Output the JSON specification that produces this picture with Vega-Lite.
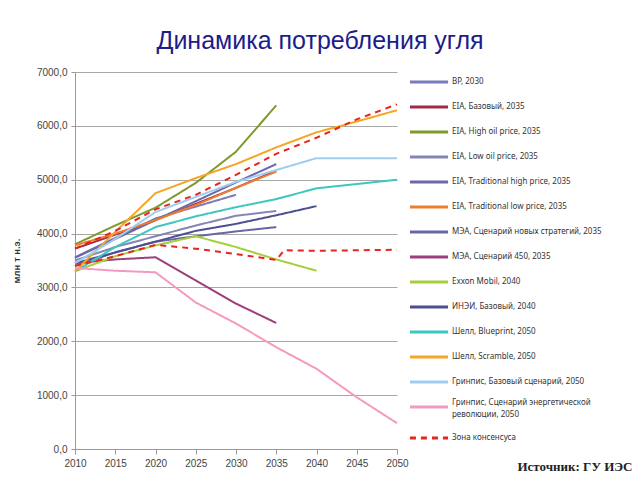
{
  "$schema": "https://vega.github.io/schema/vega-lite/v6.json",
  "width": 322,
  "height": 377,
  "autosize": {"type": "none"},
  "padding": {"left": 75, "top": 72, "right": 243, "bottom": 31},
  "background": "white",
  "title": {"text": "Динамика потребления угля", "font": "Liberation Sans", "fontSize": 25, "fontWeight": "normal", "color": "#1c1c8a", "anchor": "middle", "dx": 84, "offset": 9},
  "datasets": {
    "d": [
      {"s": "BP, 2030", "p": "a", "year": 2010, "v": 3560}, {"s": "BP, 2030", "p": "a", "year": 2015, "v": 3920}, {"s": "BP, 2030", "p": "a", "year": 2020, "v": 4280}, {"s": "BP, 2030", "p": "a", "year": 2025, "v": 4500}, {"s": "BP, 2030", "p": "a", "year": 2030, "v": 4720},
      {"s": "EIA, Базовый, 2035", "p": "a", "year": 2010, "v": 3720}, {"s": "EIA, Базовый, 2035", "p": "a", "year": 2015, "v": 3980}, {"s": "EIA, Базовый, 2035", "p": "a", "year": 2020, "v": 4250}, {"s": "EIA, Базовый, 2035", "p": "a", "year": 2025, "v": 4550}, {"s": "EIA, Базовый, 2035", "p": "a", "year": 2030, "v": 4850}, {"s": "EIA, Базовый, 2035", "p": "a", "year": 2035, "v": 5170},
      {"s": "EIA, High oil price, 2035", "p": "a", "year": 2010, "v": 3800}, {"s": "EIA, High oil price, 2035", "p": "a", "year": 2015, "v": 4150}, {"s": "EIA, High oil price, 2035", "p": "a", "year": 2020, "v": 4480}, {"s": "EIA, High oil price, 2035", "p": "a", "year": 2025, "v": 4940}, {"s": "EIA, High oil price, 2035", "p": "a", "year": 2030, "v": 5520}, {"s": "EIA, High oil price, 2035", "p": "a", "year": 2035, "v": 6380},
      {"s": "EIA, Low oil price, 2035", "p": "a", "year": 2010, "v": 3500}, {"s": "EIA, Low oil price, 2035", "p": "a", "year": 2015, "v": 3750}, {"s": "EIA, Low oil price, 2035", "p": "a", "year": 2020, "v": 3950}, {"s": "EIA, Low oil price, 2035", "p": "a", "year": 2025, "v": 4150}, {"s": "EIA, Low oil price, 2035", "p": "a", "year": 2030, "v": 4330}, {"s": "EIA, Low oil price, 2035", "p": "a", "year": 2035, "v": 4420},
      {"s": "EIA, Traditional high price, 2035", "p": "a", "year": 2010, "v": 3550}, {"s": "EIA, Traditional high price, 2035", "p": "a", "year": 2015, "v": 3900}, {"s": "EIA, Traditional high price, 2035", "p": "a", "year": 2020, "v": 4250}, {"s": "EIA, Traditional high price, 2035", "p": "a", "year": 2025, "v": 4600}, {"s": "EIA, Traditional high price, 2035", "p": "a", "year": 2030, "v": 4950}, {"s": "EIA, Traditional high price, 2035", "p": "a", "year": 2035, "v": 5290},
      {"s": "EIA, Traditional low price, 2035", "p": "a", "year": 2010, "v": 3780}, {"s": "EIA, Traditional low price, 2035", "p": "a", "year": 2015, "v": 4000}, {"s": "EIA, Traditional low price, 2035", "p": "a", "year": 2020, "v": 4250}, {"s": "EIA, Traditional low price, 2035", "p": "a", "year": 2025, "v": 4530}, {"s": "EIA, Traditional low price, 2035", "p": "a", "year": 2030, "v": 4850}, {"s": "EIA, Traditional low price, 2035", "p": "a", "year": 2035, "v": 5150},
      {"s": "МЭА, Сценарий новых стратегий, 2035", "p": "a", "year": 2010, "v": 3400}, {"s": "МЭА, Сценарий новых стратегий, 2035", "p": "a", "year": 2015, "v": 3650}, {"s": "МЭА, Сценарий новых стратегий, 2035", "p": "a", "year": 2020, "v": 3850}, {"s": "МЭА, Сценарий новых стратегий, 2035", "p": "a", "year": 2025, "v": 3950}, {"s": "МЭА, Сценарий новых стратегий, 2035", "p": "a", "year": 2030, "v": 4040}, {"s": "МЭА, Сценарий новых стратегий, 2035", "p": "a", "year": 2035, "v": 4120},
      {"s": "МЭА, Сценарий 450, 2035", "p": "a", "year": 2010, "v": 3450}, {"s": "МЭА, Сценарий 450, 2035", "p": "a", "year": 2015, "v": 3520}, {"s": "МЭА, Сценарий 450, 2035", "p": "a", "year": 2020, "v": 3560}, {"s": "МЭА, Сценарий 450, 2035", "p": "a", "year": 2025, "v": 3130}, {"s": "МЭА, Сценарий 450, 2035", "p": "a", "year": 2030, "v": 2700}, {"s": "МЭА, Сценарий 450, 2035", "p": "a", "year": 2035, "v": 2340},
      {"s": "Exxon Mobil, 2040", "p": "a", "year": 2010, "v": 3300}, {"s": "Exxon Mobil, 2040", "p": "a", "year": 2015, "v": 3580}, {"s": "Exxon Mobil, 2040", "p": "a", "year": 2020, "v": 3780}, {"s": "Exxon Mobil, 2040", "p": "a", "year": 2025, "v": 3950}, {"s": "Exxon Mobil, 2040", "p": "a", "year": 2030, "v": 3750}, {"s": "Exxon Mobil, 2040", "p": "a", "year": 2035, "v": 3520}, {"s": "Exxon Mobil, 2040", "p": "a", "year": 2040, "v": 3310},
      {"s": "ИНЭИ, Базовый, 2040", "p": "a", "year": 2010, "v": 3450}, {"s": "ИНЭИ, Базовый, 2040", "p": "a", "year": 2015, "v": 3650}, {"s": "ИНЭИ, Базовый, 2040", "p": "a", "year": 2020, "v": 3850}, {"s": "ИНЭИ, Базовый, 2040", "p": "a", "year": 2025, "v": 4050}, {"s": "ИНЭИ, Базовый, 2040", "p": "a", "year": 2030, "v": 4180}, {"s": "ИНЭИ, Базовый, 2040", "p": "a", "year": 2035, "v": 4340}, {"s": "ИНЭИ, Базовый, 2040", "p": "a", "year": 2040, "v": 4510},
      {"s": "Шелл, Blueprint, 2050", "p": "a", "year": 2010, "v": 3300}, {"s": "Шелл, Blueprint, 2050", "p": "a", "year": 2015, "v": 3750}, {"s": "Шелл, Blueprint, 2050", "p": "a", "year": 2020, "v": 4120}, {"s": "Шелл, Blueprint, 2050", "p": "a", "year": 2025, "v": 4320}, {"s": "Шелл, Blueprint, 2050", "p": "a", "year": 2030, "v": 4490}, {"s": "Шелл, Blueprint, 2050", "p": "a", "year": 2035, "v": 4640}, {"s": "Шелл, Blueprint, 2050", "p": "a", "year": 2040, "v": 4840}, {"s": "Шелл, Blueprint, 2050", "p": "a", "year": 2045, "v": 4920}, {"s": "Шелл, Blueprint, 2050", "p": "a", "year": 2050, "v": 5000},
      {"s": "Шелл, Scramble, 2050", "p": "a", "year": 2010, "v": 3300}, {"s": "Шелл, Scramble, 2050", "p": "a", "year": 2015, "v": 4030}, {"s": "Шелл, Scramble, 2050", "p": "a", "year": 2020, "v": 4750}, {"s": "Шелл, Scramble, 2050", "p": "a", "year": 2025, "v": 5030}, {"s": "Шелл, Scramble, 2050", "p": "a", "year": 2030, "v": 5290}, {"s": "Шелл, Scramble, 2050", "p": "a", "year": 2035, "v": 5600}, {"s": "Шелл, Scramble, 2050", "p": "a", "year": 2040, "v": 5880}, {"s": "Шелл, Scramble, 2050", "p": "a", "year": 2045, "v": 6080}, {"s": "Шелл, Scramble, 2050", "p": "a", "year": 2050, "v": 6290},
      {"s": "Гринпис, Базовый сценарий, 2050", "p": "a", "year": 2010, "v": 3450}, {"s": "Гринпис, Базовый сценарий, 2050", "p": "a", "year": 2015, "v": 3900}, {"s": "Гринпис, Базовый сценарий, 2050", "p": "a", "year": 2020, "v": 4400}, {"s": "Гринпис, Базовый сценарий, 2050", "p": "a", "year": 2025, "v": 4680}, {"s": "Гринпис, Базовый сценарий, 2050", "p": "a", "year": 2030, "v": 4960}, {"s": "Гринпис, Базовый сценарий, 2050", "p": "a", "year": 2035, "v": 5180}, {"s": "Гринпис, Базовый сценарий, 2050", "p": "a", "year": 2040, "v": 5400}, {"s": "Гринпис, Базовый сценарий, 2050", "p": "a", "year": 2045, "v": 5400}, {"s": "Гринпис, Базовый сценарий, 2050", "p": "a", "year": 2050, "v": 5400},
      {"s": "Гринпис, Сценарий энергетической революции, 2050", "p": "a", "year": 2010, "v": 3360}, {"s": "Гринпис, Сценарий энергетической революции, 2050", "p": "a", "year": 2015, "v": 3310}, {"s": "Гринпис, Сценарий энергетической революции, 2050", "p": "a", "year": 2020, "v": 3280}, {"s": "Гринпис, Сценарий энергетической революции, 2050", "p": "a", "year": 2025, "v": 2720}, {"s": "Гринпис, Сценарий энергетической революции, 2050", "p": "a", "year": 2030, "v": 2330}, {"s": "Гринпис, Сценарий энергетической революции, 2050", "p": "a", "year": 2035, "v": 1890}, {"s": "Гринпис, Сценарий энергетической революции, 2050", "p": "a", "year": 2040, "v": 1490}, {"s": "Гринпис, Сценарий энергетической революции, 2050", "p": "a", "year": 2045, "v": 960}, {"s": "Гринпис, Сценарий энергетической революции, 2050", "p": "a", "year": 2050, "v": 480},
      {"s": "Зона консенсуса", "p": "upper", "year": 2010, "v": 3720}, {"s": "Зона консенсуса", "p": "upper", "year": 2015, "v": 4050}, {"s": "Зона консенсуса", "p": "upper", "year": 2020, "v": 4450}, {"s": "Зона консенсуса", "p": "upper", "year": 2025, "v": 4720}, {"s": "Зона консенсуса", "p": "upper", "year": 2030, "v": 5090}, {"s": "Зона консенсуса", "p": "upper", "year": 2035, "v": 5480}, {"s": "Зона консенсуса", "p": "upper", "year": 2040, "v": 5780}, {"s": "Зона консенсуса", "p": "upper", "year": 2045, "v": 6120}, {"s": "Зона консенсуса", "p": "upper", "year": 2050, "v": 6400},
      {"s": "Зона консенсуса", "p": "lower", "year": 2010, "v": 3400}, {"s": "Зона консенсуса", "p": "lower", "year": 2015, "v": 3580}, {"s": "Зона консенсуса", "p": "lower", "year": 2020, "v": 3790}, {"s": "Зона консенсуса", "p": "lower", "year": 2025, "v": 3720}, {"s": "Зона консенсуса", "p": "lower", "year": 2030, "v": 3620}, {"s": "Зона консенсуса", "p": "lower", "year": 2035, "v": 3510}, {"s": "Зона консенсуса", "p": "lower", "year": 2036, "v": 3690}, {"s": "Зона консенсуса", "p": "lower", "year": 2040, "v": 3680}, {"s": "Зона консенсуса", "p": "lower", "year": 2045, "v": 3690}, {"s": "Зона консенсуса", "p": "lower", "year": 2050, "v": 3700}
    ]
  },
  "data": {"name": "d"},
  "mark": {"type": "line", "strokeWidth": 2},
  "encoding": {
    "x": {
      "field": "year", "type": "quantitative",
      "scale": {"domain": [2010, 2050], "nice": false, "zero": false},
      "axis": {
        "values": [2010, 2015, 2020, 2025, 2030, 2035, 2040, 2045, 2050],
        "format": "d", "grid": false, "labelFlush": false, "labelFont": "Liberation Sans", "labelFontSize": 10, "labelColor": "#444",
        "tickSize": 5, "tickColor": "#999", "domainColor": "#999", "labelPadding": 4,
        "title": "Источник: ГУ ИЭС", "titleFont": "Liberation Serif", "titleFontSize": 13, "titleFontWeight": "bold", "titleColor": "#222",
        "titleAnchor": "end", "titleAlign": "right", "titleBaseline": "middle", "titleX": 557, "titleY": 17
      }
    },
    "y": {
      "field": "v", "type": "quantitative",
      "scale": {"domain": [0, 7000], "nice": false},
      "axis": {
        "values": [0, 1000, 2000, 3000, 4000, 5000, 6000, 7000],
        "labelExpr": "replace(format(datum.value, '.1f'), '.', ',')",
        "grid": true, "gridColor": "#a8a8a8", "gridWidth": 1,
        "labelFont": "Liberation Sans", "labelFontSize": 10, "labelColor": "#444",
        "tickSize": 4, "tickColor": "#999", "domainColor": "#999", "labelPadding": 4,
        "title": "млн т н.э.", "titleFont": "Liberation Sans", "titleFontSize": 9.5, "titleFontWeight": "bold", "titleColor": "#333", "titlePadding": 15
      }
    },
    "color": {
      "field": "s", "type": "nominal",
      "scale": {
        "domain": ["BP, 2030", "EIA, Базовый, 2035", "EIA, High oil price, 2035", "EIA, Low oil price, 2035", "EIA, Traditional high price, 2035", "EIA, Traditional low price, 2035", "МЭА, Сценарий новых стратегий, 2035", "МЭА, Сценарий 450, 2035", "Exxon Mobil, 2040", "ИНЭИ, Базовый, 2040", "Шелл, Blueprint, 2050", "Шелл, Scramble, 2050", "Гринпис, Базовый сценарий, 2050", "Гринпис, Сценарий энергетической революции, 2050", "Зона консенсуса"],
        "range": ["#7b7bb8", "#a3294a", "#7f9a2c", "#8585b5", "#6a68a8", "#ef7d31", "#6767a3", "#9c3f7a", "#a6d03a", "#4f4f8f", "#3ec6c0", "#f5a623", "#9fcdf0", "#f49ac1", "#e8241f"]
      },
      "legend": {
        "title": null,
        "labelExpr": "datum.label == 'Гринпис, Сценарий энергетической революции, 2050' ? 'Гринпис, Сценарий энергетической|революции, 2050' : datum.label",
        "encode": {"labels": {"update": {
          "lineBreak": {"value": "|"}, "lineHeight": {"value": 11.5},
          "baseline": {"signal": "datum.label == 'Гринпис, Сценарий энергетической революции, 2050' ? 'top' : 'middle'"},
          "dy": {"signal": "datum.label == 'Гринпис, Сценарий энергетической революции, 2050' ? -8 : 0"}
        }}}
      }
    },
    "strokeDash": {
      "field": "s", "type": "nominal",
      "scale": {
        "domain": ["BP, 2030", "EIA, Базовый, 2035", "EIA, High oil price, 2035", "EIA, Low oil price, 2035", "EIA, Traditional high price, 2035", "EIA, Traditional low price, 2035", "МЭА, Сценарий новых стратегий, 2035", "МЭА, Сценарий 450, 2035", "Exxon Mobil, 2040", "ИНЭИ, Базовый, 2040", "Шелл, Blueprint, 2050", "Шелл, Scramble, 2050", "Гринпис, Базовый сценарий, 2050", "Гринпис, Сценарий энергетической революции, 2050", "Зона консенсуса"],
        "range": [[1, 0], [1, 0], [1, 0], [1, 0], [1, 0], [1, 0], [1, 0], [1, 0], [1, 0], [1, 0], [1, 0], [1, 0], [1, 0], [1, 0], [6, 5]]
      },
      "legend": {
        "title": null,
        "labelExpr": "datum.label == 'Гринпис, Сценарий энергетической революции, 2050' ? 'Гринпис, Сценарий энергетической|революции, 2050' : datum.label",
        "encode": {"labels": {"update": {
          "lineBreak": {"value": "|"}, "lineHeight": {"value": 11.5},
          "baseline": {"signal": "datum.label == 'Гринпис, Сценарий энергетической революции, 2050' ? 'top' : 'middle'"},
          "dy": {"signal": "datum.label == 'Гринпис, Сценарий энергетической революции, 2050' ? -8 : 0"}
        }}}
      }
    },
    "detail": {"field": "p"}
  },
  "config": {
    "view": {"stroke": null},
    "legend": {
      "orient": "none", "legendX": 335, "legendY": -9, "padding": 0,
      "symbolType": "M-1.09,0H1.09", "symbolSize": 1222, "symbolStrokeWidth": 3,
      "labelFont": "Noto Sans", "labelFontSize": 8, "labelColor": "#333", "labelOffset": 4, "labelLimit": 300,
      "rowPadding": 0
    }
  }
}
